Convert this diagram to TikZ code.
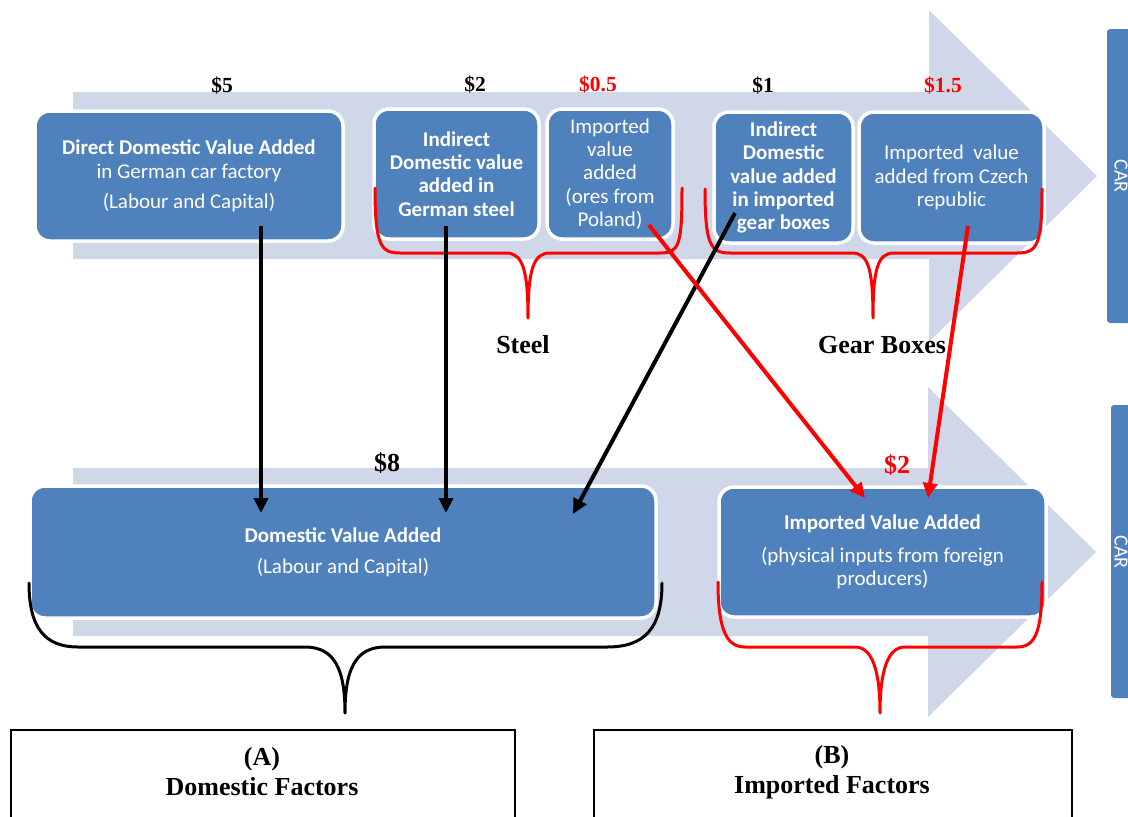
\documentclass[tikz,border=0pt]{standalone}
\usepackage{fontspec}
\setmainfont{Liberation Serif}
\newfontfamily\calfont{Carlito}
\usetikzlibrary{arrows.meta}
\definecolor{boxblue}{RGB}{79,129,189}
\definecolor{bandcol}{RGB}{208,215,232}
\definecolor{myred}{RGB}{255,0,0}
\tikzset{
  box/.style={draw=white, line width=3.5pt, fill=boxblue, rounded corners=15pt, inner sep=0pt,
    text=white, align=center, font=\calfont\fontsize{21}{23.3}\selectfont},
  boxb/.style={box, font=\calfont\bfseries\fontsize{21}{23.3}\selectfont},
  band/.style={fill=bandcol, draw=none},
  tab/.style={fill=boxblue, draw=none, rounded corners=3pt},
  cartext/.style={rotate=-90, text=white, font=\calfont\fontsize{20}{24}\selectfont},
  money/.style={font=\bfseries\fontsize{21.5}{25}\selectfont},
  bigmoney/.style={font=\bfseries\fontsize{26}{30}\selectfont},
  bigtext/.style={font=\bfseries\fontsize{26}{30}\selectfont, align=center},
  arr/.style={line width=4pt, -{Triangle[length=15pt,width=14pt]}},
  brace/.style={line width=3pt, line cap=round, line join=round},
  factbox/.style={draw=black, line width=2pt, fill=none}
}
\begin{document}
\begin{tikzpicture}[x=1pt, y=-1pt]
\useasboundingbox (0,0) rectangle (1128,817);
\begin{scope}
\clip (0,0) rectangle (1128,817);
% background arrows
\fill[band] (73,92) -- (929,92) -- (929,10) -- (1097,176) -- (929,342) -- (929,259) -- (73,259) -- cycle;
\fill[band] (73,468) -- (928,468) -- (928,387) -- (1096,552) -- (928,717) -- (928,636) -- (73,636) -- cycle;
% CAR tabs
\fill[tab] (1107,29) rectangle (1150,323);
\fill[tab] (1111,405) rectangle (1150,698);
\node[cartext] (car1) at (1121,176) {CAR};
\node[cartext] (car2) at (1121,552) {CAR};

% top boxes
\node[box, minimum width=308pt, minimum height=130pt] (direct) at (189,176)
  {\textbf{Direct Domestic Value Added}\\in German car factory\\[7pt](Labour and Capital)};
\node[boxb, minimum width=165pt, minimum height=130pt] (steelin) at (456.5,174)
  {Indirect\\Domestic value\\added in\\German steel};
\node[box, minimum width=126pt, minimum height=130pt] (poland) at (610,174)
  {Imported\\value\\added\\(ores from\\Poland)};
\node[boxb, minimum width=139pt, minimum height=131pt] (gearin) at (783.5,177.5)
  {Indirect\\Domestic\\value added\\in imported\\gear boxes};
\node[box, minimum width=185pt, minimum height=131pt] (czech) at (951.5,177.5)
  {Imported\ \ value\\added from Czech\\republic};

% bottom boxes
\node[box, minimum width=626pt, minimum height=132pt] (domestic) at (343,552)
  {\textbf{Domestic Value Added}\\[8pt](Labour and Capital)};
\node[box, minimum width=327pt, minimum height=130pt] (imported) at (882.5,552)
  {\textbf{Imported Value Added}\\[10pt](physical inputs from foreign\\producers)};

% labels
\node[money] (l5) at (222,86) {\$5};
\node[money] (l2) at (475,85) {\$2};
\node[money, text=myred] (l05) at (598,85) {\$0.5};
\node[money] (l1) at (763,86) {\$1};
\node[money, text=myred] (l15) at (943,86) {\$1.5};
\node[bigmoney] (l8) at (387,463) {\$8};
\node[bigmoney, text=myred] (lr2) at (897,465) {\$2};
\node[bigtext] (steel) at (523,345) {Steel};
\node[bigtext] (gear) at (882,345) {Gear Boxes};

% braces
\draw[brace, myred] (375,188) .. controls (375,246) and (381,253) .. (400,253) -- (506,253)
  .. controls (522,253) and (528,268) .. (528,318)
  .. controls (528,268) and (534,253) .. (550,253) -- (660,253)
  .. controls (679,253) and (682,246) .. (682,188);
\draw[brace, myred] (705,189) .. controls (705,246) and (711,253) .. (730,253) -- (852,253)
  .. controls (868,253) and (873,268) .. (873,318)
  .. controls (873,268) and (878,253) .. (894,253) -- (1017,253)
  .. controls (1037,253) and (1042,246) .. (1042,189);
\draw[brace, black] (29,583) .. controls (29,628) and (45,647) .. (78,647) -- (305,647)
  .. controls (335,647) and (345,670) .. (345,713)
  .. controls (345,670) and (355,647) .. (385,647) -- (607,647)
  .. controls (645,647) and (662,628) .. (662,583);
\draw[brace, myred] (718,582) .. controls (718,633) and (728,647) .. (745,647) -- (855,647)
  .. controls (872,647) and (880,670) .. (880,713)
  .. controls (880,670) and (888,647) .. (905,647) -- (1017,647)
  .. controls (1035,647) and (1042,633) .. (1042,582);

% arrow end points
\coordinate (s1) at (261,226); \coordinate (e1) at (261,513);
\coordinate (s2) at (446,226); \coordinate (e2) at (446,513);
\coordinate (s3) at (735,213); \coordinate (e3) at (573,514);
\coordinate (s4) at (649,225); \coordinate (e4) at (865,498);
\coordinate (s5) at (968,226); \coordinate (e5) at (928,498);
\draw[arr, black] (s1) -- (e1);
\draw[arr, black] (s2) -- (e2);
\draw[arr, black] (s3) -- (e3);
\draw[arr, myred] (s4) -- (e4);
\draw[arr, myred] (s5) -- (e5);

% factor boxes
\node[factbox, anchor=north west, minimum width=504pt, minimum height=120pt] (boxA) at (10,729) {};
\node[factbox, anchor=north west, minimum width=478pt, minimum height=120pt] (boxB) at (593,729) {};
\node[bigtext] (textA) at (262,772) {(A)\\Domestic Factors};
\node[bigtext] (textB) at (832,772) {(B)\\Imported Factors};
\end{scope}
\end{tikzpicture}
\end{document}
